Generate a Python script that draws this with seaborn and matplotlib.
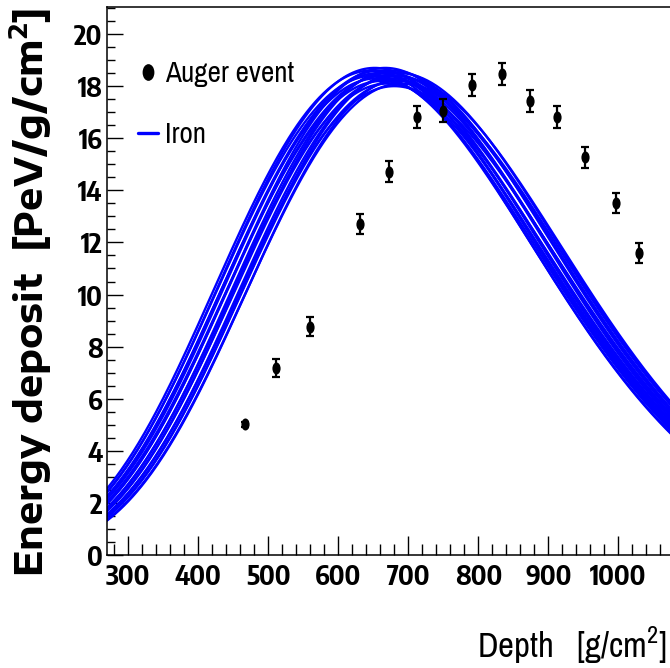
import numpy as np
import pandas as pd
import seaborn as sns
import matplotlib
matplotlib.use("Agg")
import matplotlib.pyplot as plt
from matplotlib.path import Path
from matplotlib.lines import Line2D
from matplotlib import font_manager as fm

# ---------------- data ----------------
depth_points = [466, 511, 560, 631, 673, 713, 750, 791, 834, 874, 913, 953, 996, 1030]
edep_points = [5.02, 7.17, 8.77, 12.71, 14.71, 16.83, 17.06, 18.05, 18.46, 17.44, 16.83, 15.27, 13.50, 11.60]
edep_errors = [0.10, 0.35, 0.38, 0.40, 0.40, 0.42, 0.45, 0.42, 0.42, 0.42, 0.42, 0.40, 0.38, 0.38]

# simulated iron showers (read from the band): depth of maximum and peak deposit
iron_xmax = [647, 650, 652, 655, 657, 660, 662, 665, 667, 670, 672, 675, 677, 680, 682, 685, 687, 690, 692]
iron_nmax = [18.6, 18.4, 18.7, 18.3, 18.5, 18.6, 18.2, 18.4, 18.7, 18.1, 18.5, 18.3, 18.6, 18.0, 18.4, 18.2, 18.5, 18.1, 18.3]
profile_L = 225.0   # g/cm2, profile width parameter
profile_R = 0.25    # profile asymmetry parameter

x_ticks = [300, 400, 500, 600, 700, 800, 900, 1000]
y_ticks = [0, 2, 4, 6, 8, 10, 12, 14, 16, 18, 20]

# ---------------- build profiles ----------------
grid = np.linspace(269, 1100, 400)
rows = []
for i, (xm, nm) in enumerate(zip(iron_xmax, iron_nmax)):
    xp = grid - xm
    base = np.clip(1 + profile_R * xp / profile_L, 1e-9, None)
    val = nm * base ** (profile_R ** -2) * np.exp(-xp / (profile_R * profile_L))
    rows.append(pd.DataFrame({"depth": grid, "edep": val, "shower": i}))
iron_df = pd.concat(rows, ignore_index=True)
pts_df = pd.DataFrame({"depth": depth_points, "edep": edep_points, "err": edep_errors})

# ---------------- fonts ----------------
names = {f.name for f in fm.fontManager.ttflist}
def pick(cands, default="Liberation Sans"):
    return next((n for n in cands if n in names), default)
narrow = pick(["Archivo Narrow", "Liberation Sans Narrow", "Barlow Semi Condensed"])
tickfont = pick(["Encode Sans Condensed", "Fira Sans Condensed", "DejaVu Sans"])
wide = pick(["Encode Sans Expanded", "Encode Sans Semi Expanded", "DejaVu Sans"])

sns.set_theme(style="white")
plt.rcParams["font.family"] = [narrow, "DejaVu Sans"]
plt.rcParams["text.color"] = "black"
plt.rcParams["xtick.color"] = "black"
plt.rcParams["ytick.color"] = "black"
plt.rcParams["axes.labelcolor"] = "black"
plt.rcParams["mathtext.fontset"] = "custom"
plt.rcParams["mathtext.rm"] = narrow
plt.rcParams["mathtext.bf"] = wide + ":bold"

W, H = 670, 668
fig = plt.figure(figsize=(W / 100, H / 100), dpi=100)
ax_left = 106.6 / W
ax_bottom = 1 - 555 / H
ax_top = 1 - 6.7 / H
ax_right = 688.3 / W
ax = fig.add_axes([ax_left, ax_bottom, ax_right - ax_left, ax_top - ax_bottom])

sns.lineplot(data=iron_df, x="depth", y="edep", units="shower", estimator=None,
             color="#0000ff", lw=1.7, ax=ax, legend=False, sort=False)

ax.errorbar(pts_df["depth"], pts_df["edep"], yerr=pts_df["err"], fmt="none",
            ecolor="black", elinewidth=1.6, capsize=2.6, capthick=1.6, zorder=4)
circ = Path.unit_circle()
ell = Path(circ.vertices * np.array([0.68, 1.0]), circ.codes)
sns.scatterplot(data=pts_df, x="depth", y="edep", marker=ell, s=75, color="black",
                edgecolor="black", linewidth=0, ax=ax, zorder=5)

ax.set_xlim(269, 1100)
ax.set_ylim(0, 21.05)
ax.set_xticks(x_ticks)
ax.set_xticklabels([str(v) for v in x_ticks])
ax.set_yticks(y_ticks)
ax.set_yticklabels([str(v) for v in y_ticks])
ax.set_xticks(np.arange(280, 1100, 20), minor=True)
ax.set_yticks(np.arange(0, 21.01, 0.5), minor=True)
ax.set_xlabel("")
ax.set_ylabel("")

for s in ax.spines.values():
    s.set_color("black")
    s.set_linewidth(1.1)
ax.tick_params(axis="x", which="major", direction="in", length=13.5, width=1.0,
               color="black", labelsize=19.5, pad=6, bottom=True, top=False)
ax.tick_params(axis="x", which="minor", direction="in", length=8, width=1.0,
               color="black", bottom=True, top=False)
ax.tick_params(axis="y", which="major", direction="in", length=11.5, width=1.0,
               color="black", labelsize=19.5, pad=3, left=True, right=False)
ax.tick_params(axis="y", which="minor", direction="in", length=6, width=1.0,
               color="black", left=True, right=False)
for lab in ax.get_xticklabels() + ax.get_yticklabels():
    lab.set_fontweight("bold")
    lab.set_family([tickfont, "DejaVu Sans"])
    lab.set_color("black")

# axis titles
fig.text(31 / W, 1 - 8 / H, "Energy deposit  [PeV/g/cm$\\mathbf{^{2}}$]", rotation=90,
         ha="center", va="top", fontsize=26.5, fontweight="bold", color="black",
         family=[wide, "DejaVu Sans"])
fig.text(667 / W, 1 - 645 / H, "Depth   [g/cm$^{2}$]", ha="right", va="center",
         fontsize=25, color="black")

# legend
handles = [
    Line2D([], [], marker=ell, markersize=11, color="black", linestyle="none"),
    Line2D([], [], color="#0000ff", lw=2.4),
]
leg = ax.legend(handles, ["Auger event", "Iron"], loc="upper left",
                bbox_to_anchor=((138 - 106.6) / (688.3 - 106.6), 1 - (60 - 6.7) / 548.3),
                frameon=False, fontsize=21, handlelength=0.7, handletextpad=0.22,
                labelspacing=1.18, borderaxespad=0, borderpad=0)
for t in leg.get_texts():
    t.set_color("black")

fig.savefig("out.png", dpi=100)
